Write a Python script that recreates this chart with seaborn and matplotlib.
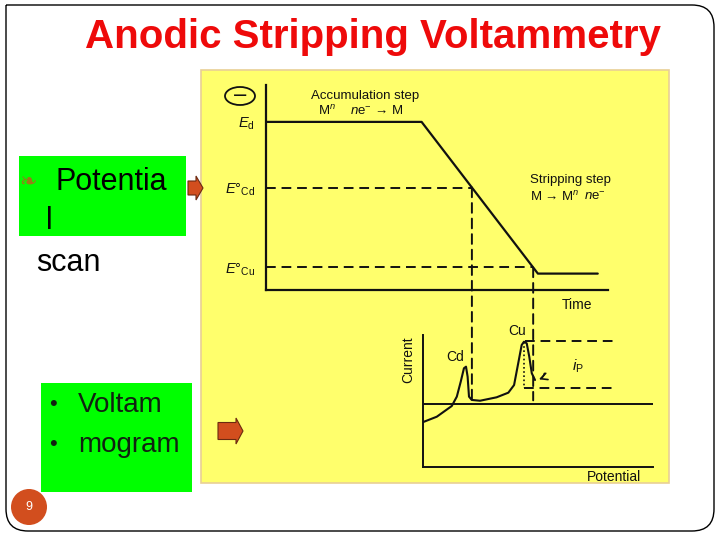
"""
Slide: Anodic Stripping Voltammetry - potential scan and voltammogram.
"""

import matplotlib.pyplot as plt
import matplotlib.patches as mpatches
from matplotlib.path import Path
from matplotlib.patches import ConnectionPatch
from matplotlib.transforms import blended_transform_factory
import numpy as np
import seaborn as sns


# Potential scan (time vs potential, arbitrary units)
scan_time = [0.0, 4.55, 7.95, 9.7]
scan_potential = [8.2, 8.2, 0.8, 0.8]
E_D = 8.2
E_CD = 5.0
E_CU = 1.1
potential_ticks = [E_D, E_CD, E_CU]
potential_labels = [r"$E_{\mathrm{d}}$", r"$E°_{\mathrm{Cd}}$", r"$E°_{\mathrm{Cu}}$"]

# Voltammogram (potential vs current, arbitrary units)
volt_potential = [0.0, 0.60, 1.25, 1.47, 1.64, 1.78, 1.87, 1.94, 2.00, 2.12,
                  2.48, 3.20, 3.71, 3.96, 4.14, 4.29, 4.39, 4.51, 4.62, 4.73, 4.87]
volt_current = [3.40, 3.81, 4.62, 5.33, 6.46, 7.48, 7.60, 6.84, 5.33, 5.08,
                5.02, 5.28, 5.63, 6.21, 7.86, 9.24, 9.49, 9.37, 8.36, 7.10, 6.59]
BASELINE = 4.77
IP_TOP = 9.55
IP_BOTTOM = 5.98
IP_X = 4.40
IP_END = 8.26
LINK_END = 5.05

TITLE = "Anodic Stripping Voltammetry"
RED = "#EE0A0A"
GREEN = "#00FF00"
YELLOW = "#FFFF6C"
ORANGE = "#D24E1E"
INK = "#111111"


def main() -> None:
    sns.set_theme(style="white")
    plt.rcParams["font.family"] = ["Liberation Sans", "DejaVu Sans"]
    plt.rcParams["mathtext.fontset"] = "custom"
    plt.rcParams["mathtext.rm"] = "Liberation Sans"
    plt.rcParams["mathtext.it"] = "Liberation Sans:italic"

    fig = plt.figure(figsize=(7.2, 5.4), dpi=100)
    fig.patch.set_facecolor("white")

    # Slide canvas in pixel units
    slide = fig.add_axes([0, 0, 1, 1])
    slide.set_xlim(0, 720)
    slide.set_ylim(540, 0)
    slide.axis("off")

    # Slide border: square top-left, rounded others
    r = 22
    L, T, R, B = 6, 5, 714, 531
    verts = [(L, T), (R - r, T), (R, T), (R, T + r), (R, B - r), (R, B), (R - r, B),
             (L + r, B), (L, B), (L, B - r), (L, T)]
    codes = [Path.MOVETO, Path.LINETO, Path.CURVE3, Path.CURVE3, Path.LINETO,
             Path.CURVE3, Path.CURVE3, Path.LINETO, Path.CURVE3, Path.CURVE3, Path.LINETO]
    slide.add_patch(mpatches.PathPatch(Path(verts, codes), facecolor="white",
                                       edgecolor="black", lw=1.0))

    slide.text(373, 37, TITLE, color=RED, fontsize=29, fontweight="bold",
               ha="center", va="center")

    # Yellow figure panel
    slide.add_patch(mpatches.Rectangle((201, 70), 468, 413, facecolor=YELLOW,
                                       edgecolor="#E9CF95", lw=1.2))

    # Green text boxes
    slide.add_patch(mpatches.Rectangle((19, 156), 167, 80, facecolor=GREEN, edgecolor="none"))
    slide.add_patch(mpatches.Rectangle((41, 383), 151, 109, facecolor=GREEN, edgecolor="none"))
    slide.text(19, 183, "❧", color="#9A7A1A", fontsize=15, ha="left", va="center",
               family=["DejaVu Sans"])
    slide.text(56, 182, "Potentia", fontsize=22, ha="left", va="center", color="black")
    slide.text(46, 221, "l", fontsize=22, ha="left", va="center", color="black")
    slide.text(36, 263, "scan", fontsize=22, ha="left", va="center", color="black")
    slide.text(49, 405, "•", fontsize=16, ha="left", va="center", color="#112211")
    slide.text(78, 405, "Voltam", fontsize=20, ha="left", va="center", color="#112211")
    slide.text(49, 445, "•", fontsize=16, ha="left", va="center", color="#112211")
    slide.text(78, 445, "mogram", fontsize=20, ha="left", va="center", color="#112211")

    # Orange arrows
    slide.add_patch(mpatches.FancyArrow(188, 188, 15, 0, width=14, head_width=24,
                                        head_length=7, length_includes_head=True,
                                        facecolor=ORANGE, edgecolor="#6B2A10", lw=0.8))
    slide.add_patch(mpatches.FancyArrow(218, 431, 25, 0, width=17, head_width=26,
                                        head_length=7, length_includes_head=True,
                                        facecolor=ORANGE, edgecolor="#6B2A10", lw=0.8))

    # Page number
    slide.add_patch(mpatches.Circle((29, 507), 18, facecolor=ORANGE, edgecolor="none"))
    slide.text(29, 507, "9", color="white", fontsize=9, ha="center", va="center")

    # Negative electrode symbol
    slide.add_patch(mpatches.Ellipse((240, 96), 30, 18, fill=False, edgecolor=INK, lw=1.3))
    slide.text(240, 95, "−", fontsize=14, ha="center", va="center", color=INK,
               family=["DejaVu Sans"])

    # ---- Potential scan axes ----
    ax_top = fig.add_axes([266 / 720, (540 - 290) / 540, (608 - 266) / 720, (290 - 85) / 540])
    ax_top.set_facecolor("none")
    sns.lineplot(x=scan_time, y=scan_potential, ax=ax_top, color=INK, lw=1.6,
                 sort=False, estimator=None)
    ax_top.set_xlim(0, 10)
    ax_top.set_ylim(0, 10)
    for side in ["top", "right"]:
        ax_top.spines[side].set_visible(False)
    for side in ["left", "bottom"]:
        ax_top.spines[side].set_color(INK)
        ax_top.spines[side].set_linewidth(1.6)
    ax_top.set_xticks([])
    ax_top.set_yticks(potential_ticks)
    ax_top.set_yticklabels(potential_labels)
    ax_top.tick_params(axis="y", length=0, pad=8, labelsize=10.5, labelcolor=INK)

    # Where the ramp crosses the formal potentials
    ramp_t = np.array(scan_time[1:3])[::-1]
    ramp_e = np.array(scan_potential[1:3])[::-1]
    t_cd = np.interp(E_CD, ramp_e, ramp_t)
    t_cu = np.interp(E_CU, ramp_e, ramp_t)

    dash = (0, (5, 3))
    ax_top.plot([0, t_cd], [E_CD, E_CD], color=INK, lw=1.4, linestyle=dash)
    ax_top.plot([0, t_cu], [E_CU, E_CU], color=INK, lw=1.4, linestyle=dash)

    def note(x, y, s, **kw):
        ax_top.text(x, y, s, transform=ax_top.transAxes, fontsize=9.5,
                    ha="left", va="center", color=INK, **kw)

    note(0.132, 0.945, "Accumulation step")
    note(0.152, 0.875, r"M$^{n}$")
    note(0.245, 0.875, r"$n$e$^{-}$ → M")
    note(0.772, 0.537, "Stripping step")
    note(0.772, 0.455, r"M → M$^{n}$")
    note(0.930, 0.455, r"$n$e$^{-}$")
    ax_top.text(0.909, -0.073, "Time", transform=ax_top.transAxes,
                fontsize=10, ha="center", va="center", color=INK)

    # ---- Voltammogram axes ----
    ax_bot = fig.add_axes([423 / 720, (540 - 467) / 540, (653 - 423) / 720, (467 - 335) / 540])
    ax_bot.set_facecolor("none")
    sns.lineplot(x=volt_potential, y=volt_current, ax=ax_bot, color=INK, lw=1.5,
                 sort=False, estimator=None)
    ax_bot.set_xlim(0, 10)
    ax_bot.set_ylim(0, 10)
    for side in ["top", "right"]:
        ax_bot.spines[side].set_visible(False)
    for side in ["left", "bottom"]:
        ax_bot.spines[side].set_color(INK)
        ax_bot.spines[side].set_linewidth(1.4)
    ax_bot.set_xticks([])
    ax_bot.set_yticks([])
    ax_bot.axhline(BASELINE, color=INK, lw=1.4)

    ax_bot.plot([IP_X + 0.05, IP_END], [IP_TOP, IP_TOP], color=INK, lw=1.4, linestyle=dash)
    ax_bot.plot([IP_X, IP_END], [IP_BOTTOM, IP_BOTTOM], color=INK, lw=1.4, linestyle=dash)
    ax_bot.plot([IP_X, IP_X], [IP_TOP - 0.1, IP_BOTTOM], color=INK, lw=1.2,
                linestyle=(0, (1, 1.5)))
    ax_bot.annotate("", xy=(volt_potential[-1] + 0.05, volt_current[-1]),
                    xytext=(5.3, 7.3),
                    arrowprops=dict(arrowstyle="->", color=INK, lw=1.2,
                                    connectionstyle="arc3,rad=-0.4"))

    ax_bot.text(1.39, 8.33, "Cd", fontsize=10, ha="center", va="center", color=INK)
    ax_bot.text(4.09, 10.3, "Cu", fontsize=10, ha="center", va="center", color=INK,
                clip_on=False)
    ax_bot.text(6.74, 7.65, r"$i_{\mathrm{P}}$", fontsize=11, ha="center", va="center",
                color=INK)
    ax_bot.text(-0.065, 0.81, "Current", transform=ax_bot.transAxes, rotation=90,
                fontsize=10, ha="center", va="center", color=INK)
    ax_bot.text(0.83, -0.076, "Potential", transform=ax_bot.transAxes,
                fontsize=10, ha="center", va="center", color=INK)

    # Vertical dashed links from the scan down to the voltammogram
    link_coords = blended_transform_factory(ax_top.transData, ax_bot.transData)
    for t_val, e_val in [(t_cd, E_CD), (t_cu, E_CU)]:
        link = ConnectionPatch(xyA=(t_val, e_val), coordsA=ax_top.transData,
                               xyB=(t_val, LINK_END), coordsB=link_coords,
                               color=INK, lw=1.4, linestyle=dash)
        fig.add_artist(link)

    fig.savefig("out.png", dpi=100)
    plt.close(fig)


if __name__ == "__main__":
    main()
